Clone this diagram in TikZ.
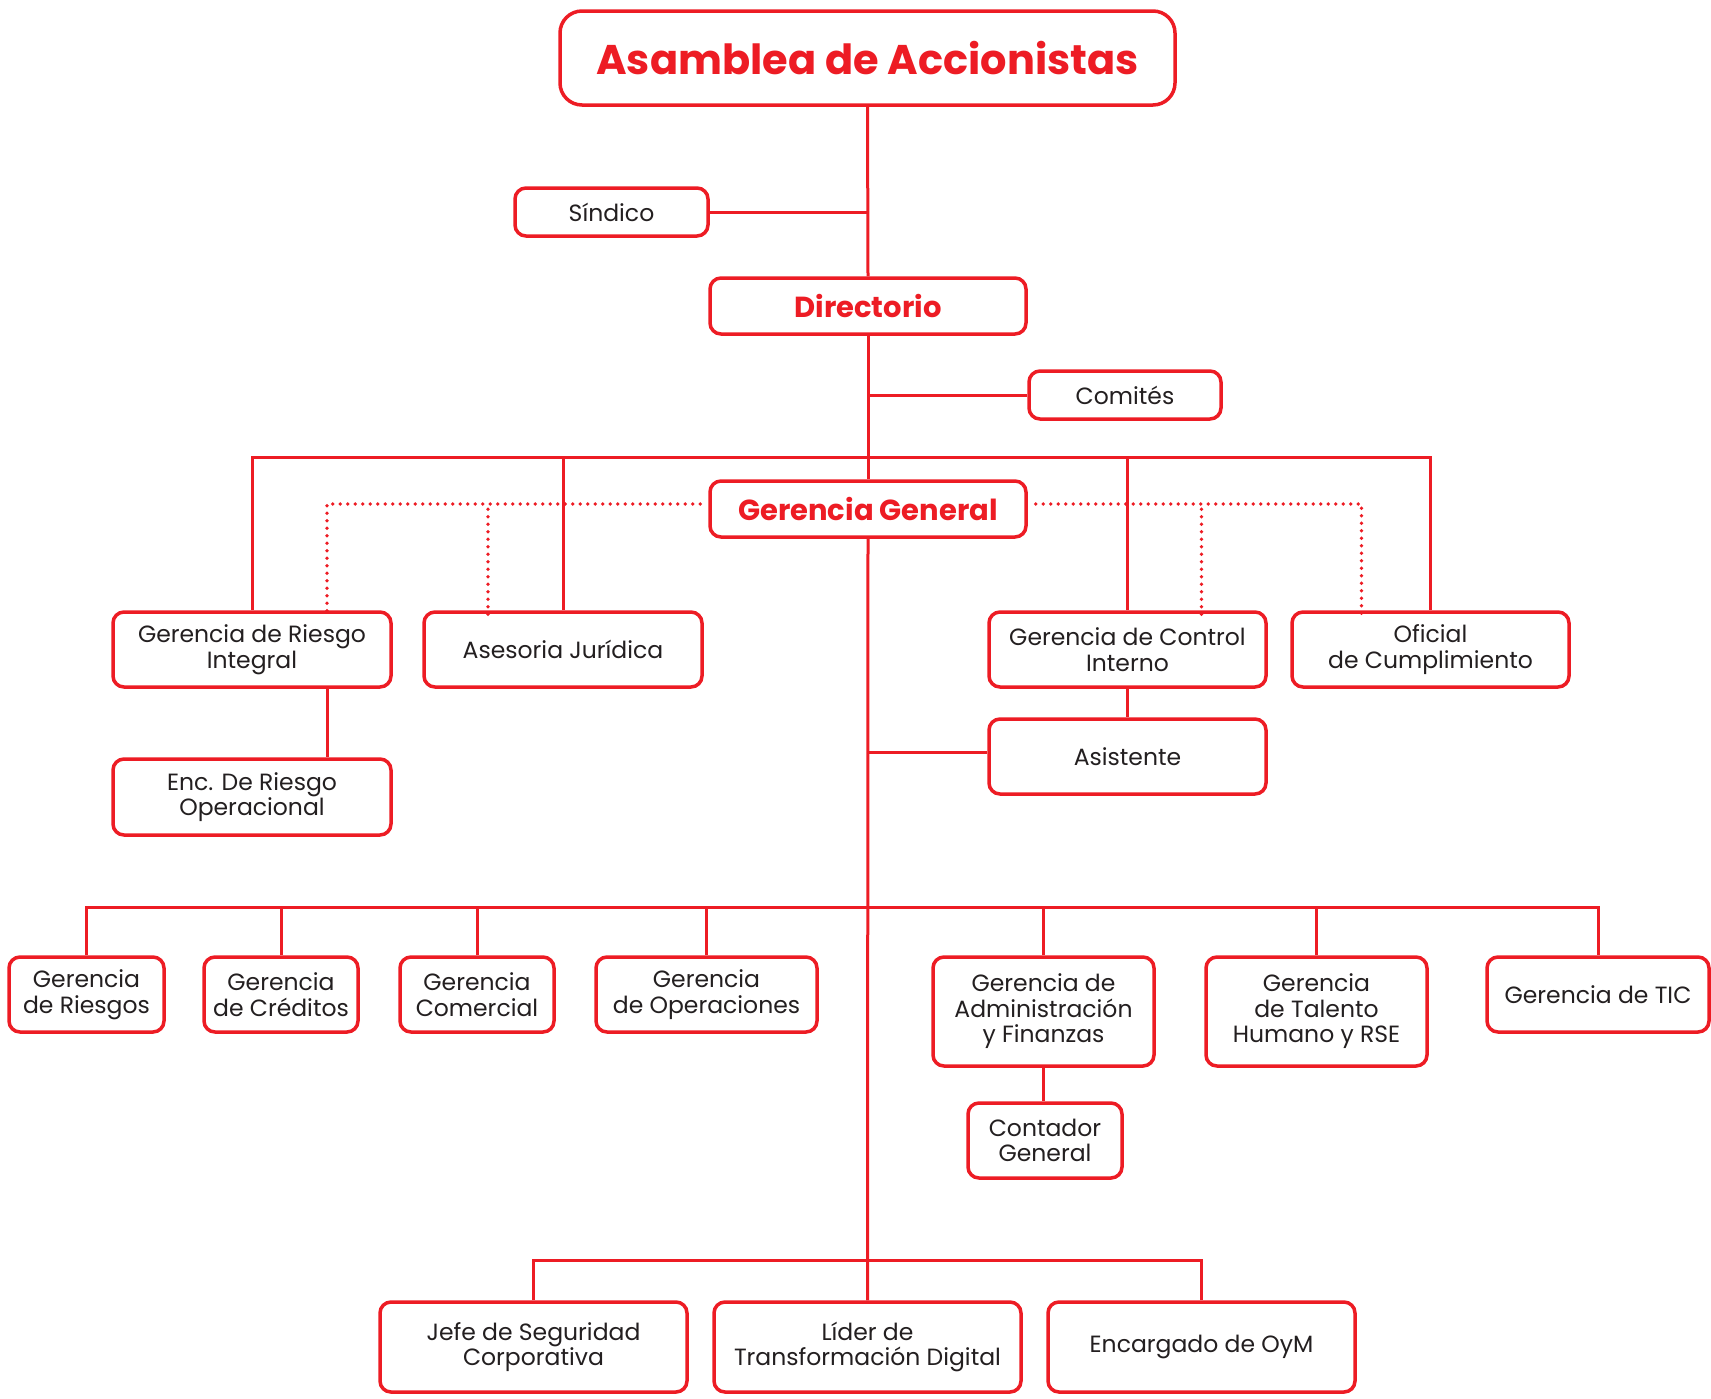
\documentclass[tikz,border=0pt]{standalone}
\usepackage{fontspec}
\setmainfont{Poppins}
\definecolor{orgred}{RGB}{237,28,36}
\definecolor{orgtext}{RGB}{35,31,32}
\begin{document}
\begin{tikzpicture}[x=1pt,y=-1pt,
  box/.style={draw=orgred, line width=3.5pt, rounded corners=11pt, fill=white,
    align=center, text=orgtext, inner sep=0pt,
    font=\fontsize{23.5}{25.5}\selectfont},
  title/.style={box, text=orgred, font=\fontsize{29}{32}\bfseries\selectfont},
  link/.style={draw=orgred, line width=3pt},
  dotline/.style={draw=orgred, line width=3.6pt, line cap=round, dash pattern=on 0pt off 7.5pt}
]
\useasboundingbox (0,0) rectangle (1711,1398);
% top
\node[title, rounded corners=22pt, minimum width=615pt, minimum height=94pt,
  font=\fontsize{41.5}{46}\bfseries\selectfont] (asa) at (867.5,58) {Asamblea de Accionistas};
\node[box, minimum width=193pt, minimum height=48pt] (sin) at (611.5,212) {Síndico};
\node[title, minimum width=316pt, minimum height=56pt] (dir) at (868,306) {Directorio};
\node[box, minimum width=192pt, minimum height=48pt] (com) at (1125,395) {Comités};
\node[title, minimum width=316pt, minimum height=56pt] (gg) at (868,509) {Gerencia General};
% row 1
\node[box, minimum width=278pt, minimum height=75pt] (gri) at (252,649.5) {Gerencia de Riesgo\\Integral};
\node[box, minimum width=278pt, minimum height=75pt] (ase) at (563,649.5) {Asesoria Jurídica};
\node[box, minimum width=277pt, minimum height=75pt] (gci) at (1127.5,649.5) {Gerencia de Control\\Interno};
\node[box, minimum width=277pt, minimum height=75pt] (ofi) at (1430.5,649.5) {Oficial\\de Cumplimiento};
\node[box, minimum width=278pt, minimum height=76pt] (enc) at (252,797) {Enc. De Riesgo\\Operacional};
\node[box, minimum width=277pt, minimum height=75pt] (asi) at (1127.5,756.5) {Asistente};
% row 2
\node[box, minimum width=155pt, minimum height=75pt] (rie) at (86.5,994.5) {Gerencia\\de Riesgos};
\node[box, minimum width=154pt, minimum height=75pt] (cre) at (281,994.5) {Gerencia\\de Créditos};
\node[box, minimum width=154pt, minimum height=75pt] (cmr) at (477,994.5) {Gerencia\\Comercial};
\node[box, minimum width=221pt, minimum height=75pt] (ope) at (706.5,994.5) {Gerencia\\de Operaciones};
\node[box, minimum width=221pt, minimum height=109pt] (adm) at (1043.5,1011.5) {Gerencia de\\Administración\\y Finanzas};
\node[box, minimum width=221pt, minimum height=109pt] (tal) at (1316.5,1011.5) {Gerencia\\de Talento\\Humano y RSE};
\node[box, minimum width=222pt, minimum height=75pt] (tic) at (1598,994.5) {Gerencia de TIC};
\node[box, minimum width=154pt, minimum height=75pt] (con) at (1045,1140.5) {Contador\\General};
% bottom
\node[box, minimum width=307pt, minimum height=90pt] (jef) at (533.5,1347) {Jefe de Seguridad\\Corporativa};
\node[box, minimum width=307pt, minimum height=90pt] (lid) at (867.5,1347) {Líder de\\Transformación Digital};
\node[box, minimum width=307pt, minimum height=90pt] (eno) at (1201.5,1347) {Encargado de OyM};
% bar coordinates
\coordinate (b1) at (867.5,457);
\coordinate (b2) at (867.5,907);
\coordinate (b3) at (867.5,1260);
\coordinate (dl) at ([yshift=5pt]gg.west);
\coordinate (dr) at ([yshift=5pt]gg.east);
\coordinate (dgri) at ([xshift=75pt,yshift=-4pt]gri.north);
\coordinate (dase) at ([xshift=-75pt,yshift=-4pt]ase.north);
\coordinate (dgci) at ([xshift=74pt,yshift=-4pt]gci.north);
\coordinate (dofi) at ([xshift=-69pt,yshift=-4pt]ofi.north);
\coordinate (asw) at ([yshift=4pt]asi.west);
% connectors
\draw[link] (asa.south) -- (dir.north);
\draw[link] (sin.east) -- (sin.east -| asa.south);
\draw[link] (dir.south) -- (gg.north);
\draw[link] (com.west) -- (com.west -| dir.south);
\draw[link] (gri.north) |- (b1) -| (ofi.north);
\draw[link] (ase.north) |- (b1);
\draw[link] (gci.north) |- (b1);
\draw[link] ([xshift=75pt]gri.south) -- ([xshift=75pt]enc.north);
\draw[link] (gci.south) -- (asi.north);
\draw[link] (asw) -- (asw -| gg.south);
\draw[link] (gg.south) -- (lid.north);
\draw[link] (rie.north) |- (b2) -| (tic.north);
\draw[link] (cre.north) |- (b2);
\draw[link] (cmr.north) |- (b2);
\draw[link] (ope.north) |- (b2);
\draw[link] (adm.north) |- (b2);
\draw[link] (tal.north) |- (b2);
\draw[link] (adm.south) -- (con.north -| adm.south);
\draw[link] (jef.north) |- (b3) -| (eno.north);
% dotted
\draw[dotline] ([xshift=-8pt]dl) -| (dgri);
\draw[dotline] (dase) -- (dase |- dl);
\draw[dotline] ([xshift=8pt]dr) -| (dofi);
\draw[dotline] (dgci) -- (dgci |- dr);
\end{tikzpicture}
\end{document}
